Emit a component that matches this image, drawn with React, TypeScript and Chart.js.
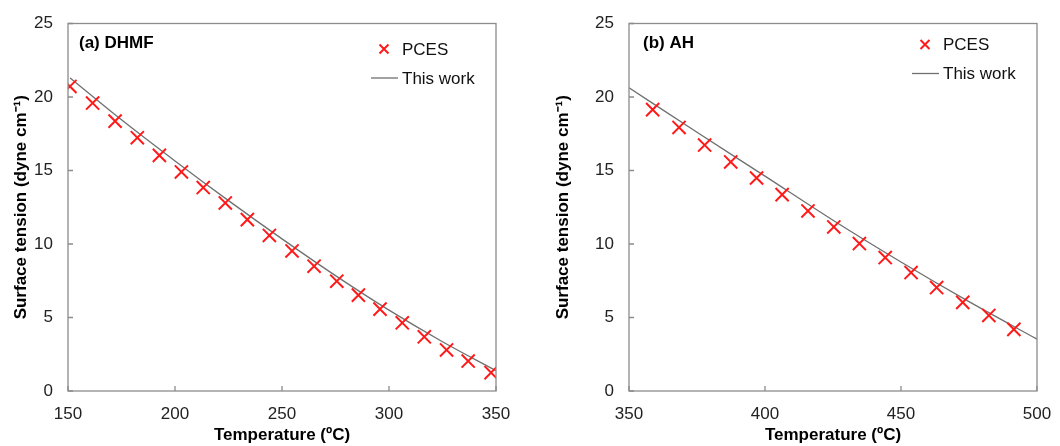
import React, { useEffect, useRef } from "react";
import { Chart, registerables } from "chart.js";

Chart.register(...registerables);

// ---- Data ----
const dhmfTemp = [150.9, 161.5, 172.0, 182.4, 192.7, 203.0, 213.2, 223.5, 233.8, 244.1, 254.7, 265.0, 275.6, 285.7, 295.8, 306.2, 316.5, 326.9, 337.0, 347.7];
const dhmfPces = [20.72, 19.59, 18.36, 17.23, 16.03, 14.9, 13.84, 12.79, 11.66, 10.58, 9.53, 8.49, 7.47, 6.52, 5.57, 4.64, 3.69, 2.79, 2.04, 1.25];
const dhmfFitTemp = [151, 175, 200, 225, 250, 275, 300, 325, 350];
const dhmfFit = [21.3, 18.45, 15.65, 12.95, 10.35, 7.85, 5.5, 3.35, 1.38];

const ahTemp = [358.7, 368.4, 377.8, 387.4, 396.9, 406.3, 415.8, 425.3, 434.7, 444.2, 453.7, 463.1, 472.7, 482.3, 491.5];
const ahPces = [19.14, 17.93, 16.73, 15.58, 14.49, 13.36, 12.25, 11.16, 10.03, 9.08, 8.06, 7.04, 6.03, 5.14, 4.19];
const ahFitTemp = [350, 375, 400, 425, 450, 475, 500];
const ahFit = [20.63, 17.6, 14.62, 11.62, 8.78, 6.08, 3.53];

const yTicks = [0, 5, 10, 15, 20, 25];
const FONT = "'Liberation Sans', Arial, sans-serif";
const RED = "#ff1a1a";
const LINE = "#707070";
const FRAME = "#8c8c8c";

type PanelCfg = {
  label: string;
  temp: number[];
  pces: number[];
  fitTemp: number[];
  fit: number[];
  xMin: number;
  xMax: number;
  yWidth: number;
  padRight: number;
  yTitlePad: number;
  labelX: number;
  legendDY: number;
};

const panels: PanelCfg[] = [
  { label: "(a) DHMF", temp: dhmfTemp, pces: dhmfPces, fitTemp: dhmfFitTemp, fit: dhmfFit, xMin: 150, xMax: 350, yWidth: 68, padRight: 34, yTitlePad: 11, labelX: 11, legendDY: 2.5 },
  { label: "(b) AH", temp: ahTemp, pces: ahPces, fitTemp: ahFitTemp, fit: ahFit, xMin: 350, xMax: 500, yWidth: 99, padRight: 23, yTitlePad: 23, labelX: 14, legendDY: -2 },
];

function makePlugin(cfg: PanelCfg) {
  return {
    id: "decor",
    afterDraw(chart: any) {
      const ctx = chart.ctx;
      const a = chart.chartArea;
      const xs = chart.scales.x;
      const ys = chart.scales.y;
      ctx.save();
      // frame
      ctx.strokeStyle = FRAME;
      ctx.lineWidth = 1.3;
      ctx.strokeRect(a.left, a.top, a.right - a.left, a.bottom - a.top);
      // inner ticks
      ctx.beginPath();
      xs.ticks.forEach((t: any) => {
        const px = xs.getPixelForValue(t.value);
        ctx.moveTo(px, a.bottom);
        ctx.lineTo(px, a.bottom - 5);
      });
      ys.ticks.forEach((t: any) => {
        const py = ys.getPixelForValue(t.value);
        ctx.moveTo(a.left, py);
        ctx.lineTo(a.left + 5, py);
      });
      ctx.stroke();
      // panel label
      ctx.fillStyle = "#000";
      ctx.font = `bold 17px ${FONT}`;
      ctx.textAlign = "left";
      ctx.textBaseline = "middle";
      ctx.fillText(cfg.label, a.left + cfg.labelX, a.top + 19.5);
      // legend
      const r = a.right;
      const y1 = a.top + 23 + cfg.legendDY;
      const y2 = a.top + 52 + cfg.legendDY;
      const mx = r - 112;
      ctx.strokeStyle = RED;
      ctx.lineWidth = 2;
      ctx.beginPath();
      ctx.moveTo(mx - 4.5, y1 - 4.5);
      ctx.lineTo(mx + 4.5, y1 + 4.5);
      ctx.moveTo(mx - 4.5, y1 + 4.5);
      ctx.lineTo(mx + 4.5, y1 - 4.5);
      ctx.stroke();
      ctx.strokeStyle = LINE;
      ctx.lineWidth = 1.3;
      ctx.beginPath();
      ctx.moveTo(r - 125, y2);
      ctx.lineTo(r - 98, y2);
      ctx.stroke();
      ctx.fillStyle = "#111";
      ctx.font = `17px ${FONT}`;
      ctx.fillText("PCES", r - 94, y1 + 1);
      ctx.fillText("This work", r - 94, y2 + 1);
      ctx.restore();
    },
  };
}

function Panel({ cfg, left }: { cfg: PanelCfg; left: number }) {
  const ref = useRef<HTMLCanvasElement | null>(null);
  useEffect(() => {
    if (!ref.current) return;
    const chart = new Chart(ref.current, {
      type: "scatter",
      data: {
        datasets: [
          {
            label: "This work",
            type: "line",
            data: cfg.fitTemp.map((x, i) => ({ x, y: cfg.fit[i] })),
            borderColor: LINE,
            borderWidth: 1.3,
            pointRadius: 0,
            cubicInterpolationMode: "monotone",
            fill: false,
            order: 2,
          } as any,
          {
            label: "PCES",
            data: cfg.temp.map((x, i) => ({ x, y: cfg.pces[i] })),
            pointStyle: "crossRot",
            pointRadius: 9.3,
            pointBorderWidth: 2,
            borderColor: RED,
            backgroundColor: RED,
            showLine: false,
            order: 1,
          } as any,
        ],
      },
      options: {
        responsive: false,
        animation: false,
        events: [],
        layout: { padding: { top: 23.5, right: cfg.padRight, left: 0, bottom: 0 } },
        plugins: { legend: { display: false }, tooltip: { enabled: false } },
        scales: {
          x: {
            type: "linear",
            min: cfg.xMin,
            max: cfg.xMax,
            grid: { display: false, drawTicks: false },
            border: { display: false },
            ticks: { stepSize: 50, font: { family: FONT, size: 17 }, color: "#222", padding: 13, maxRotation: 0 },
            title: { display: true, text: "Temperature (ºC)", font: { family: FONT, size: 17, weight: "bold" }, color: "#000", padding: { top: 0, bottom: 0 } },
            afterFit: (s: any) => { s.height = 55; s.paddingLeft = 0; s.paddingRight = 0; },
          },
          y: {
            type: "linear",
            min: 0,
            max: 25,
            afterBuildTicks: (s: any) => { s.ticks = yTicks.map((v) => ({ value: v })); },
            grid: { display: false, drawTicks: false },
            border: { display: false },
            ticks: { font: { family: FONT, size: 17 }, color: "#222", padding: 15 },
            title: { display: true, text: "Surface tension (dyne cm⁻¹)", font: { family: FONT, size: 17, weight: "bold" }, color: "#000", padding: { top: cfg.yTitlePad, bottom: 0 } },
            afterFit: (s: any) => { s.width = cfg.yWidth; s.paddingTop = 0; s.paddingBottom = 0; },
          },
        },
      } as any,
      plugins: [makePlugin(cfg)],
    });
    return () => chart.destroy();
  }, [cfg]);
  return (
    <canvas
      ref={ref}
      width={530}
      height={446}
      style={{ position: "absolute", left, top: 0, width: 530, height: 446 }}
    />
  );
}

export default function App() {
  return (
    <div style={{ position: "absolute", left: 0, top: 0, width: 1060, height: 446, background: "#fff" }}>
      <Panel cfg={panels[0]} left={0} />
      <Panel cfg={panels[1]} left={530} />
    </div>
  );
}
